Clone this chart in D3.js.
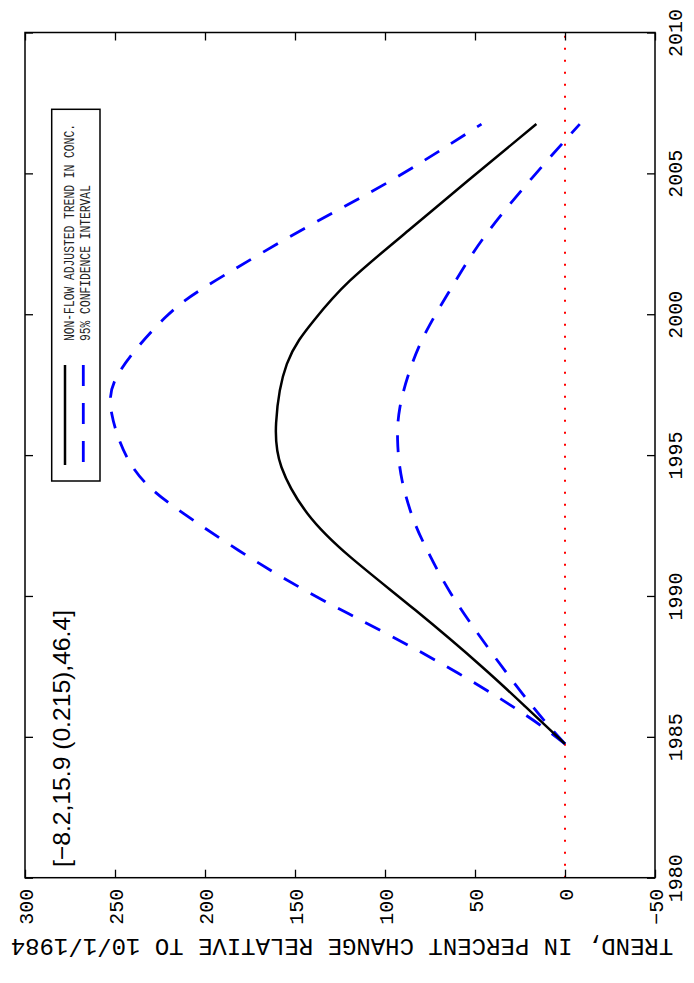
<!DOCTYPE html>
<html><head><meta charset="utf-8">
<script src="https://cdn.jsdelivr.net/npm/d3@7"></script>
<style>body{margin:0;background:#fff}</style>
</head><body><svg id="c" width="694" height="983"></svg>
<script>
// Data (years vs percent change)
const trendYears = [1984.75, 1986.07, 1987.48, 1989.49, 1991.37, 1992.92, 1994.57, 1996.14, 1998.24, 1999.78, 2001.19, 2002.97, 2004.74, 2006.75];
const trendValues = [0, 22, 46, 83, 119, 143, 157.5, 160.5, 154.5, 139.5, 119.5, 87, 54, 15.9];
const upperYears = [1984.75, 1985.95, 1987.72, 1989.26, 1990.85, 1992.93, 1994.56, 1996.47, 1998.0, 1999.89, 2001.2, 2003.09, 2004.77, 2006.75];
const upperValues = [0, 26, 72, 117, 162, 212, 240, 251.8, 247, 222, 194, 143.5, 96, 46.4];
const lowerYears = [1984.75, 1986.06, 1988.07, 1990.1, 1991.62, 1992.68, 1994.1, 1995.52, 1996.7, 1997.99, 1999.4, 2001.0, 2002.73, 2004.86, 2006.75];
const lowerValues = [0, 17.8, 41.7, 63.5, 76.5, 84, 90.5, 93, 91.7, 86.3, 77, 62.5, 45, 18, -8.2];
const valueTicks = [300, 250, 200, 150, 100, 50, 0, -50];
const yearTicks = [1980, 1985, 1990, 1995, 2000, 2005, 2010];
const legendLabels = ["NON-FLOW ADJUSTED TREND IN CONC.", "95% CONFIDENCE INTERVAL"];
const annotation = "[\u22128.2,15.9 (0.215),46.4]";
const axisTitle = "TREND, IN PERCENT CHANGE RELATIVE TO 10/1/1984";

const svg = d3.select("#c");
const x = d3.scaleLinear().domain([300, -50]).range([25, 655]);
const y = d3.scaleLinear().domain([1980, 2010]).range([877.7, 32.5]);
const mono = "'Liberation Mono', 'DejaVu Sans Mono', monospace";

// zero reference line
svg.append("line")
  .attr("x1", x(0)).attr("x2", x(0)).attr("y1", y(1980)).attr("y2", y(2010))
  .attr("stroke", "#ff0000").attr("stroke-width", 2).attr("stroke-dasharray", "2,10");

const line = d3.line().x(d => x(d[1])).y(d => y(d[0])).curve(d3.curveNatural);
const zip = (a, b) => a.map((v, i) => [v, b[i]]);

svg.append("path").attr("d", line(zip(upperYears, upperValues)))
  .attr("fill", "none").attr("stroke", "#0000ff").attr("stroke-width", 2.8).attr("stroke-dasharray", "17,14");
svg.append("path").attr("d", line(zip(lowerYears, lowerValues)))
  .attr("fill", "none").attr("stroke", "#0000ff").attr("stroke-width", 2.8).attr("stroke-dasharray", "17,14");
svg.append("path").attr("d", line(zip(trendYears, trendValues)))
  .attr("fill", "none").attr("stroke", "#000").attr("stroke-width", 2.5);

// axes
const gBottom = svg.append("g").attr("transform", `translate(0,${y(1980)})`)
  .call(d3.axisBottom(x).tickValues(valueTicks).tickSize(-8).tickFormat(d3.format("d")));
gBottom.select(".domain").remove();
gBottom.selectAll("line").attr("stroke", "#000").attr("stroke-width", 1.3);
gBottom.selectAll("text").attr("transform", "rotate(-90)").attr("x", -11).attr("y", 0)
  .attr("dy", "0.35em").attr("text-anchor", "end")
  .style("font-family", mono).style("font-size", "20px").attr("fill", "#000");

const gTop = svg.append("g").attr("transform", `translate(0,${y(2010)})`)
  .call(d3.axisTop(x).tickValues(valueTicks).tickSize(-8).tickFormat(""));
gTop.select(".domain").remove();
gTop.selectAll("line").attr("stroke", "#000").attr("stroke-width", 1.3);

const gRight = svg.append("g").attr("transform", `translate(${x(-50)},0)`)
  .call(d3.axisRight(y).tickValues(yearTicks).tickSize(-8).tickFormat(d3.format("d")));
gRight.select(".domain").remove();
gRight.selectAll("line").attr("stroke", "#000").attr("stroke-width", 1.3);
gRight.selectAll("text").attr("transform", "translate(27,0) rotate(-90)").attr("x", 0).attr("y", 0)
  .attr("dy", 0).attr("text-anchor", "middle")
  .style("font-family", mono).style("font-size", "20px").attr("fill", "#000");

const gLeft = svg.append("g").attr("transform", `translate(${x(300)},0)`)
  .call(d3.axisLeft(y).tickValues(yearTicks).tickSize(-8).tickFormat(""));
gLeft.select(".domain").remove();
gLeft.selectAll("line").attr("stroke", "#000").attr("stroke-width", 1.3);

// frame
svg.append("rect").attr("x", x(300)).attr("y", y(2010))
  .attr("width", x(-50) - x(300)).attr("height", y(1980) - y(2010))
  .attr("fill", "none").attr("stroke", "#000").attr("stroke-width", 1.5);

// legend
const lg = svg.append("g");
lg.append("rect").attr("x", 51.7).attr("y", 109.3).attr("width", 48.3).attr("height", 371.7)
  .attr("fill", "#fff").attr("stroke", "#000").attr("stroke-width", 1.5);
lg.append("line").attr("x1", 65).attr("x2", 65).attr("y1", 365).attr("y2", 465)
  .attr("stroke", "#000").attr("stroke-width", 2.5);
lg.append("line").attr("x1", 83.3).attr("x2", 83.3).attr("y1", 365).attr("y2", 465)
  .attr("stroke", "#0000ff").attr("stroke-width", 2.8).attr("stroke-dasharray", "21,17");
legendLabels.forEach((t, i) => {
  lg.append("text").attr("transform", `translate(${[73.5, 90][i]},341) rotate(-90)`)
    .attr("text-anchor", "start")
    .attr("textLength", t.length * 6.78).attr("lengthAdjust", "spacingAndGlyphs")
    .style("font-family", mono).style("font-size", "14.5px").attr("fill", "#222").text(t);
});

// annotation
svg.append("text").attr("transform", "translate(70,867) rotate(-90)")
  .attr("text-anchor", "start").attr("textLength", 257).attr("lengthAdjust", "spacingAndGlyphs")
  .style("font-family", "'Liberation Sans', Arial, sans-serif").style("font-size", "24px")
  .attr("fill", "#000").text(annotation);

// axis title (upside down)
svg.append("text").attr("transform", "translate(342,939) rotate(180)")
  .attr("text-anchor", "middle")
  .style("font-family", mono).style("font-size", "24px").attr("fill", "#000").text(axisTitle);
</script>
</body></html>
